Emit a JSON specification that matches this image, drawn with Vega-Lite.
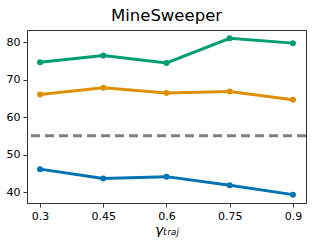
{
  "$schema": "https://vega.github.io/schema/vega-lite/v6.json",
  "width": 279,
  "height": 173,
  "padding": {"left": 6, "top": 7, "right": 3, "bottom": 0},
  "background": "white",
  "title": {"text": "MineSweeper", "font": "DejaVu Sans", "fontSize": 16.5, "fontWeight": "normal", "color": "black", "offset": 6},
  "config": {
    "font": "DejaVu Sans",
    "view": {"stroke": "#333333", "strokeWidth": 1},
    "axis": {"grid": false, "labelFont": "DejaVu Sans", "labelFontSize": 11, "labelColor": "black", "tickColor": "#333333", "domainColor": "#333333", "tickSize": 4, "labelPadding": 3}
  },
  "data": {"values": [
    {"g": 0.3, "v": 74.6, "s": "A"}, {"g": 0.45, "v": 76.4, "s": "A"}, {"g": 0.6, "v": 74.4, "s": "A"}, {"g": 0.75, "v": 81.0, "s": "A"}, {"g": 0.9, "v": 79.7, "s": "A"},
    {"g": 0.3, "v": 66.0, "s": "B"}, {"g": 0.45, "v": 67.8, "s": "B"}, {"g": 0.6, "v": 66.4, "s": "B"}, {"g": 0.75, "v": 66.8, "s": "B"}, {"g": 0.9, "v": 64.6, "s": "B"},
    {"g": 0.3, "v": 46.1, "s": "C"}, {"g": 0.45, "v": 43.6, "s": "C"}, {"g": 0.6, "v": 44.1, "s": "C"}, {"g": 0.75, "v": 41.8, "s": "C"}, {"g": 0.9, "v": 39.3, "s": "C"}
  ]},
  "layer": [
    {
      "data": {"values": [{"y": 55}]},
      "mark": {"type": "rule", "color": "#808080", "strokeWidth": 3, "strokeDash": [9, 5]},
      "encoding": {"y": {"field": "y", "type": "quantitative"}}
    },
    {
      "mark": {"type": "line", "strokeWidth": 3, "point": {"size": 36, "filled": true, "opacity": 1}},
      "encoding": {
        "x": {"field": "g", "type": "quantitative", "scale": {"domain": [0.269, 0.931], "nice": false, "zero": false},
              "axis": {"values": [0.3, 0.45, 0.6, 0.75, 0.9], "format": ".2~f", "title": "γₜᵣₐⱼ", "titleFont": "DejaVu Sans", "titleFontStyle": "italic", "titleFontWeight": "normal", "titleFontSize": 14, "titleColor": "black", "titlePadding": 2}},
        "y": {"field": "v", "type": "quantitative", "scale": {"domain": [37.07, 83.2], "nice": false, "zero": false},
              "axis": {"values": [40, 50, 60, 70, 80], "title": null}},
        "color": {"field": "s", "type": "nominal", "legend": null, "scale": {"domain": ["A", "B", "C"], "range": ["#029e73", "#de8f05", "#0173b2"]}}
      }
    }
  ]
}
